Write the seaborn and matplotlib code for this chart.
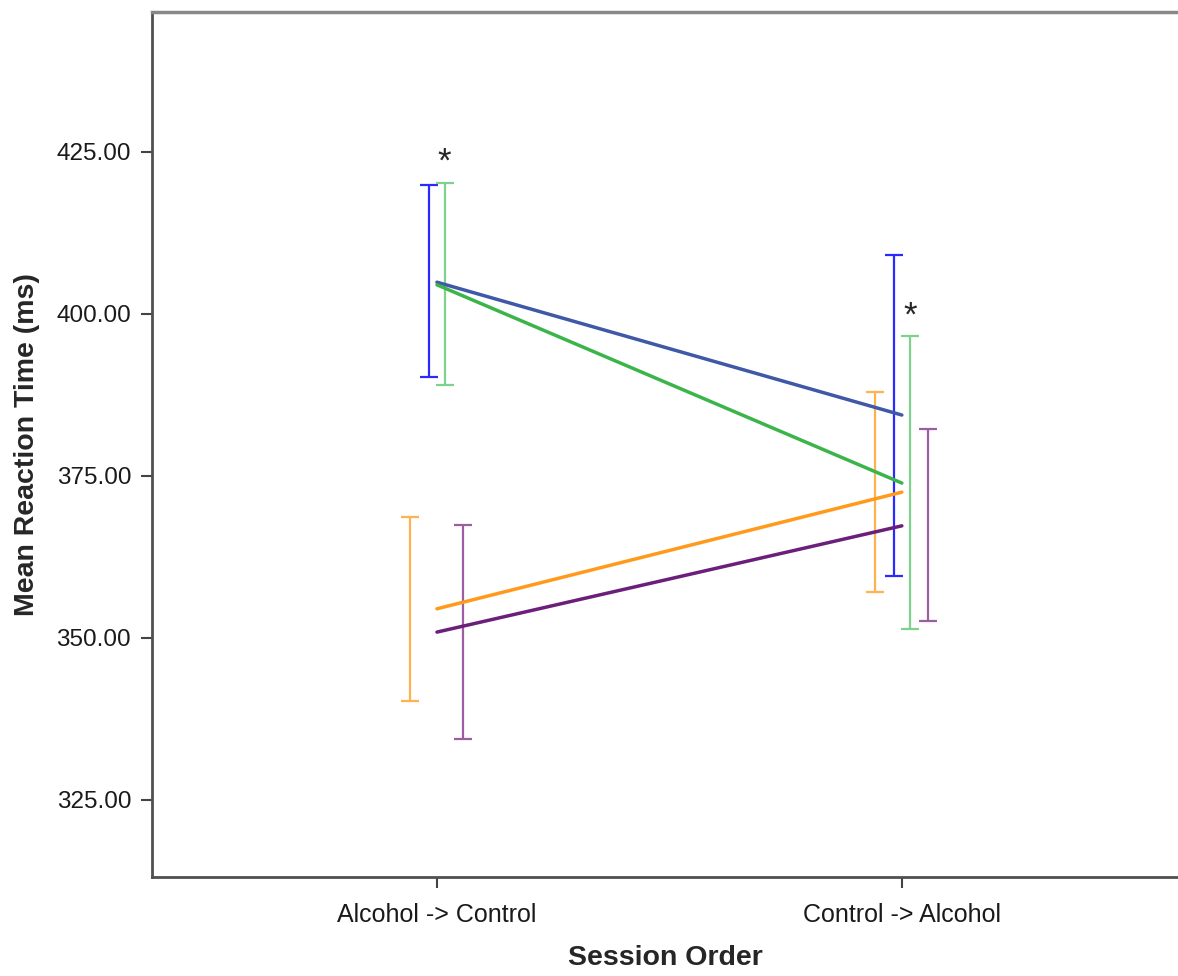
"""
plot.py  –  Mean reaction time by session order (four groups, ±error bars).
"""
import numpy as np
import pandas as pd
import matplotlib
matplotlib.use("Agg")
import matplotlib.pyplot as plt
import seaborn as sns

# ── data ─────────────────────────────────────────────────────────────────────
sessions = ["Alcohol -> Control", "Control -> Alcohol"]
groups   = ["Group A", "Group B", "Group C", "Group D"]

mean_a  = [404.9, 384.4]
mean_b  = [404.5, 373.9]
mean_c  = [354.5, 372.5]
mean_d  = [350.9, 367.3]

low_a   = [390.3, 359.6]
high_a  = [419.9, 409.1]
low_b   = [389.0, 351.4]
high_b  = [420.2, 396.6]
low_c   = [340.3, 357.1]
high_c  = [368.7, 388.0]
low_d   = [334.4, 352.6]
high_d  = [367.4, 382.3]

yticks  = [325, 350, 375, 400, 425]

# ── style ────────────────────────────────────────────────────────────────────
line_colors = ["#3f58a8", "#3bb54a", "#ff9a1c", "#6b1f7a"]
bar_colors  = ["#2a2aff", "#7ed28d", "#ffb24f", "#9c5da3"]
offsets     = [-0.017, 0.018, -0.057, 0.056]

sns.set_style("white")
plt.rcParams["font.family"] = ["Liberation Sans", "DejaVu Sans"]

means = [mean_a, mean_b, mean_c, mean_d]
lows  = [low_a, low_b, low_c, low_d]
highs = [high_a, high_b, high_c, high_d]

df = pd.DataFrame({
    "pos":   [i for _ in groups for i in range(len(sessions))],
    "group": [g for g in groups for _ in sessions],
    "mean":  [v for m in means for v in m],
})

fig = plt.figure(figsize=(11.78, 9.76), dpi=100)
ax = fig.add_axes([0.129, 0.1014, 0.871, 0.8863])

# error bars (offset sideways so they don't overlap)
for k in range(len(groups)):
    x = np.arange(len(sessions)) + offsets[k]
    m = np.array(means[k])
    err = [m - np.array(lows[k]), np.array(highs[k]) - m]
    ax.errorbar(x, m, yerr=err, fmt="none", ecolor=bar_colors[k],
                elinewidth=1.6, capsize=6.5, capthick=1.6, zorder=2)

sns.lineplot(data=df, x="pos", y="mean", hue="group", hue_order=groups,
             palette=line_colors, linewidth=2.5, legend=False, ax=ax,
             zorder=3)

# significance markers
ax.text(0.015, 423.4, "*", ha="center", va="center", fontsize=25)
ax.text(1.018, 399.6, "*", ha="center", va="center", fontsize=25)

ax.set_xlim(-0.613, 1.594)
ax.set_ylim(313.1, 446.6)
ax.set_xticks(range(len(sessions)))
ax.set_xticklabels(sessions, fontsize=18, color="#1a1a1a")
ax.set_yticks(yticks)
ax.set_yticklabels([f"{v:.2f}" for v in yticks], fontsize=17.5,
                   color="#1a1a1a")
ax.tick_params(axis="both", direction="out", length=8, width=1.5,
               color="#444444", left=True, bottom=True)
ax.tick_params(axis="x", pad=11)
ax.tick_params(axis="y", pad=7)

ax.set_xlabel("Session Order", fontsize=20.5, fontweight="bold", labelpad=13)
ax.set_ylabel("Mean Reaction Time (ms)", fontsize=20.5, fontweight="bold",
              labelpad=12)

for side in ["left", "bottom"]:
    ax.spines[side].set_color("#505050")
    ax.spines[side].set_linewidth(2)
ax.spines["top"].set_color("#888888")
ax.spines["top"].set_linewidth(2.5)
ax.spines["right"].set_visible(False)

plt.savefig("out.png", dpi=100)
plt.close()
print("  Saved → out.png")
